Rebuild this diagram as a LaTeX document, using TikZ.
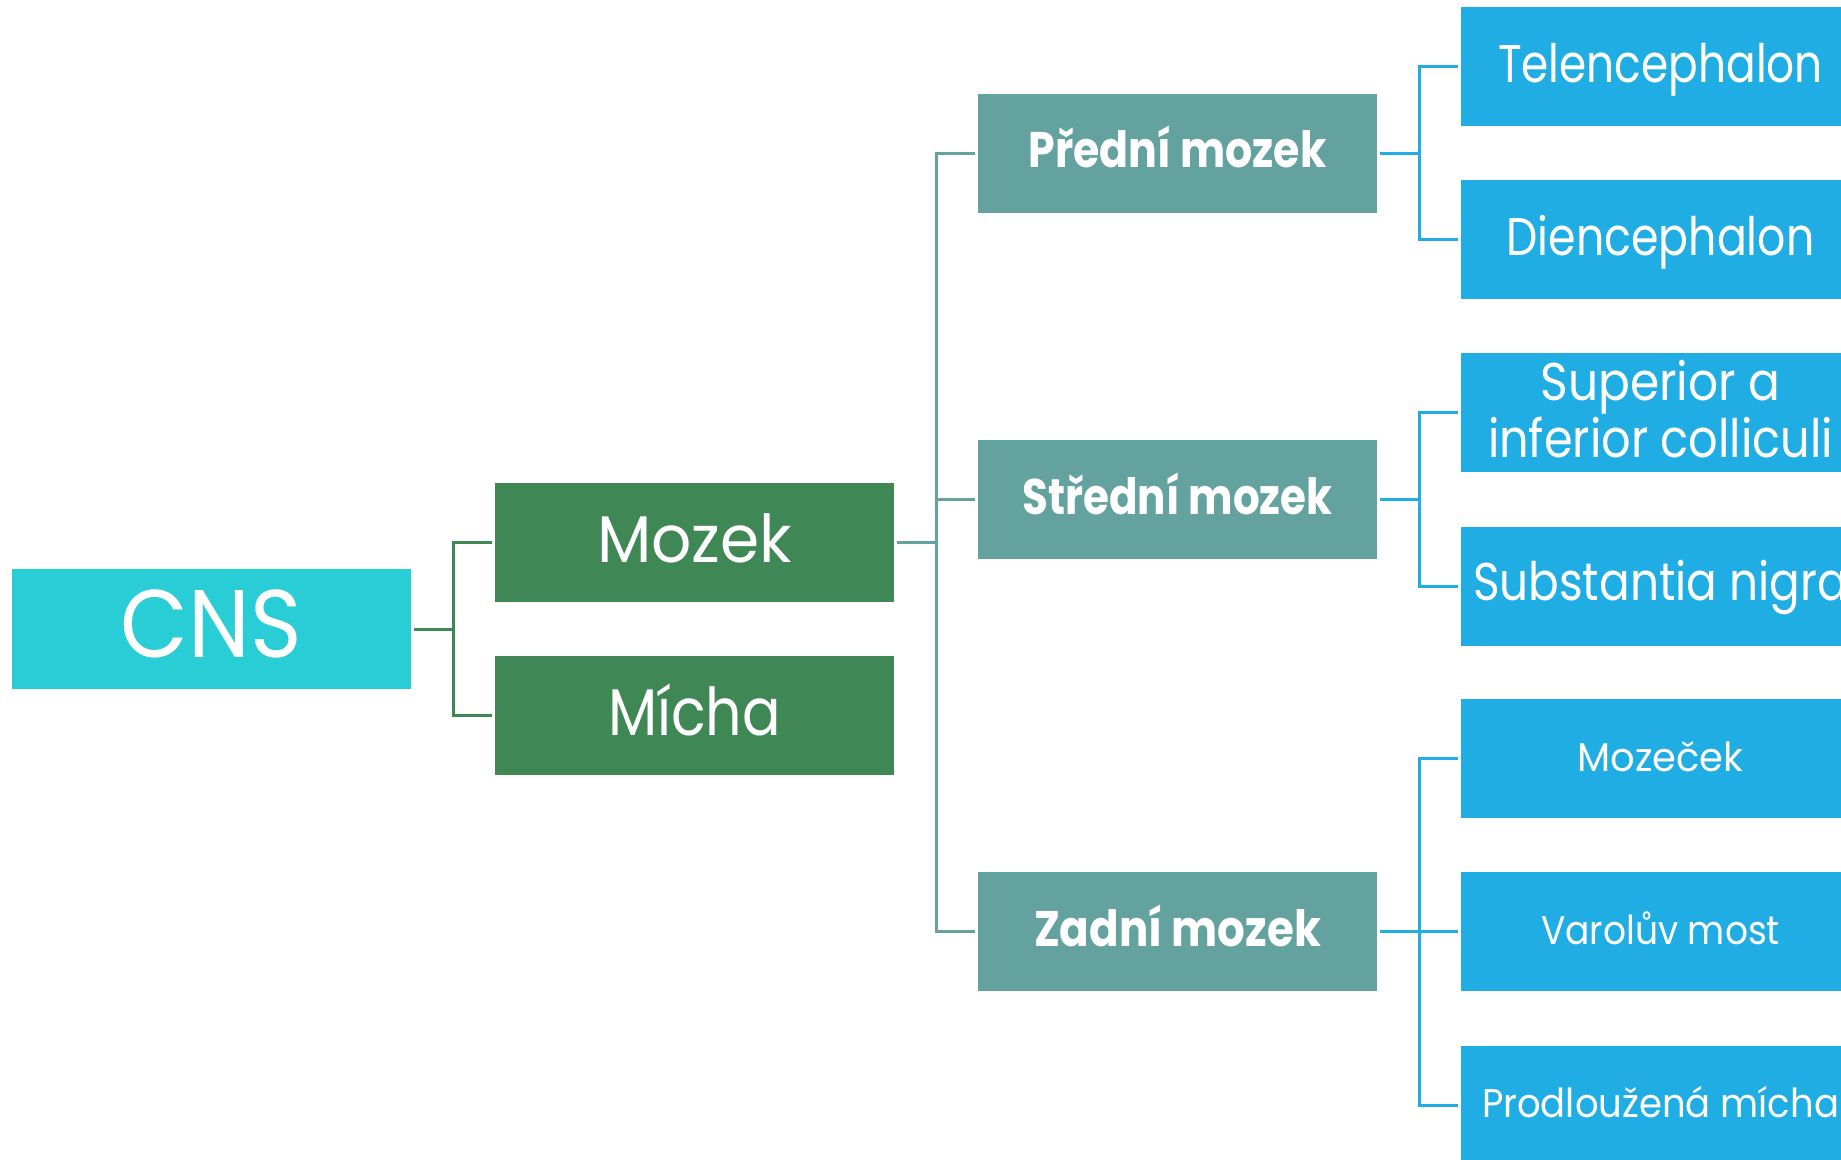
\documentclass[tikz,border=0pt]{standalone}
\usepackage{fontspec}
\setmainfont{Poppins}
\usepackage{graphicx}
\definecolor{cnsc}{RGB}{41,205,214}
\definecolor{grn}{RGB}{63,136,85}
\definecolor{teal2}{RGB}{100,162,159}
\definecolor{blu}{RGB}{31,173,227}
\newcommand\fitw[2]{\resizebox{#1pt}{\height}{#2}}
\tikzset{
  box/.style={rectangle, inner sep=0pt, minimum width=399pt, minimum height=119pt, text=white, text depth=0pt},
  cnsbox/.style={box, fill=cnsc, minimum height=120pt, text height=56pt, font=\fontsize{96}{110}\selectfont},
  l1box/.style={box, fill=grn, text height=39pt, font=\fontsize{66}{76}\selectfont},
  l2box/.style={box, fill=teal2, text height=29pt, font=\fontsize{50}{58}\selectfont\bfseries},
  l3big/.style={box, fill=blu, text height=31pt, font=\fontsize{53}{57}\selectfont},
  l3small/.style={box, fill=blu, text height=26pt, font=\fontsize{40}{46}\selectfont},
  conn/.style={line width=3pt},
}
\begin{document}
\begin{tikzpicture}[x=1pt,y=-1pt]
\useasboundingbox (0,0) rectangle (1841,1159);
\clip (0,0) rectangle (1841,1159);
% nodes
\node[cnsbox] (cns) at (211.5,629) {\fitw{181}{CNS}};
\node[l1box] (mozek) at (694.5,542.5) {\fitw{195}{Mozek}};
\node[l1box] (micha) at (694.5,715.5) {\fitw{173}{Mícha}};
\node[l2box] (predni) at (1177.5,153) {\fitw{298}{Přední mozek}};
\node[l2box] (stredni) at (1177.5,499.5) {\fitw{310}{Střední mozek}};
\node[l2box] (zadni) at (1177.5,931.5) {\fitw{287}{Zadní mozek}};
\node[l3big] (tele) at (1660.5,66.5) {\fitw{325}{Telencephalon}};
\node[l3big] (dien) at (1660.5,239.5) {\fitw{308}{Diencephalon}};
\node[l3big, align=center, text height=89pt] (sup) at (1660.5,412.5) {\fitw{240}{Superior a}\\\fitw{345}{inferior colliculi}};
\node[l3big, text height=28pt] (subst) at (1660.5,586) {\fitw{375}{Substantia nigra}};
\node[l3small] (mozecek) at (1660.5,758.5) {\fitw{166}{Mozeček}};
\node[l3small] (varol) at (1660.5,931.5) {\fitw{239}{Varolův most}};
\node[l3small, text height=23pt] (prod) at (1660.5,1105.5) {\fitw{357}{Prodloužená mícha}};
% junctions
\coordinate (j1) at (453,629);
\coordinate (j2) at (936,542.5);
\coordinate (j3) at (1419,153);
\coordinate (j4) at (1419,499.5);
\coordinate (j5) at (1419,931.5);
% connectors
\draw[conn, grn, shorten <=3pt] (cns.east) -- (j1);
\draw[conn, grn, shorten >=3pt] (j1) |- (mozek.west);
\draw[conn, grn, shorten >=3pt] (j1) |- (micha.west);
\draw[conn, teal2, shorten <=3pt] (mozek.east) -- (j2);
\draw[conn, teal2, shorten >=3pt] (j2) |- (predni.west);
\draw[conn, teal2, shorten >=3pt] (j2) |- (stredni.west);
\draw[conn, teal2, shorten >=3pt] (j2) |- (zadni.west);
\draw[conn, blu, shorten <=3pt] (predni.east) -- (j3);
\draw[conn, blu, shorten >=3pt] (j3) |- (tele.west);
\draw[conn, blu, shorten >=3pt] (j3) |- (dien.west);
\draw[conn, blu, shorten <=3pt] (stredni.east) -- (j4);
\draw[conn, blu, shorten >=3pt] (j4) |- (sup.west);
\draw[conn, blu, shorten >=3pt] (j4) |- (subst.west);
\draw[conn, blu, shorten <=3pt] (zadni.east) -- (j5);
\draw[conn, blu, shorten >=3pt] (j5) |- (mozecek.west);
\draw[conn, blu, shorten >=3pt] (j5) |- (varol.west);
\draw[conn, blu, shorten >=3pt] (j5) |- (prod.west);
\end{tikzpicture}
\end{document}
